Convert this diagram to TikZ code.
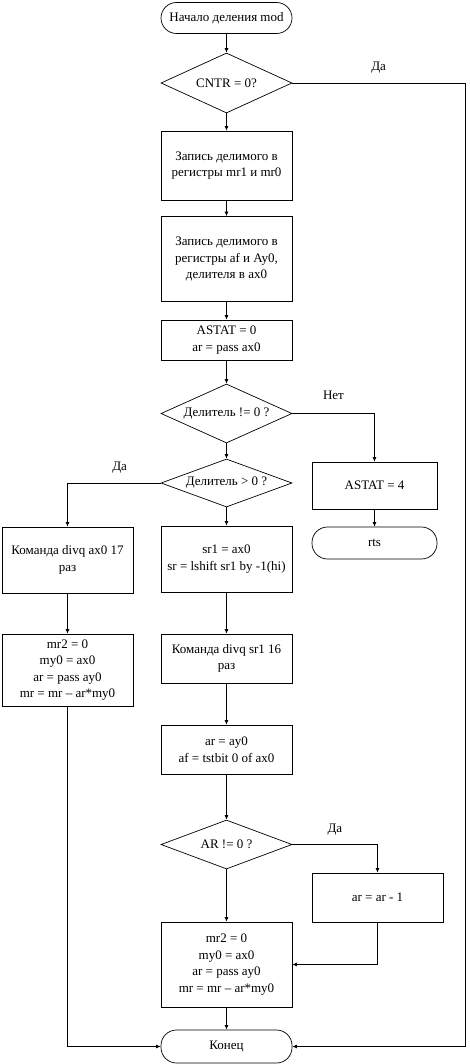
\documentclass[tikz,border=0pt]{standalone}
\usepackage{fontspec}
\setmainfont{Liberation Serif}
\usetikzlibrary{arrows.meta, shapes.geometric}

\begin{document}
\begin{tikzpicture}[x=1pt, y=-1pt, line width=0.7pt,
    font=\fontsize{13}{16.5}\selectfont,
    proc/.style={draw, rectangle, inner sep=2pt, minimum width=131pt, align=center},
    term/.style={draw, rectangle, rounded corners=15.5pt, inner sep=2pt, minimum width=131pt, minimum height=32pt},
    cond/.style={draw, diamond, inner sep=0pt, minimum width=131pt},
    lbl/.style={above=9pt, inner sep=0pt},
    arr/.style={-{Latex[length=4.5pt, width=4pt]}}]
        \useasboundingbox (0,0) rectangle (470,1064);

        % Начало и проверка CNTR
        \node[term, minimum height=31pt] (start) at (226.5,18) {Начало деления mod};
        \node[cond, minimum height=60pt, label=center:{CNTR = 0?}] (cntr) at (226.5,83) {};
        \node[proc, minimum height=69pt] (wr1) at (226.5,165.5) {Запись делимого в\\регистры mr1 и mr0};
        \node[proc, minimum height=85pt] (wr2) at (226.5,259) {Запись делимого в\\регистры af и Ay0,\\делителя в ax0};
        \node[proc, minimum height=40pt] (ast0) at (226.5,340) {ASTAT = 0\\ar = pass ax0};

        % Проверки делителя
        \node[cond, minimum height=59pt, label=center:{Делитель != 0 ?}] (dnz) at (226.5,413.5) {};
        \node[cond, minimum height=48pt, label=center:{Делитель > 0 ?}] (dpos) at (226.5,483) {};
        \node[proc, minimum width=125pt, minimum height=47pt] (ast4) at (374.5,485.5) {ASTAT = 4};
        \node[term, minimum width=125pt] (rts) at (374.5,543) {rts};

        % Левая ветка
        \node[proc, minimum height=66pt] (divax) at (67.5,560) {Команда divq ax0 17\\раз};
        \node[proc, minimum height=72pt] (resl) at (67.5,670) {mr2 = 0\\my0 = ax0\\ar = pass ay0\\mr = mr – ar*my0};

        % Центральная ветка
        \node[proc, minimum height=66pt] (shft) at (226.5,559) {sr1 = ax0\\sr = lshift sr1 by -1(hi)};
        \node[proc, minimum height=49pt] (divsr) at (226.5,658.5) {Команда divq sr1 16\\раз};
        \node[proc, minimum height=49pt] (tst) at (226.5,749.5) {ar = ay0\\af = tstbit 0 of ax0};
        \node[cond, minimum height=49pt, label=center:{AR != 0 ?}] (arnz) at (226.5,844.5) {};
        \node[proc, minimum height=49pt] (dec) at (377.5,897.5) {ar = ar - 1};
        \node[proc, minimum height=85pt] (resc) at (226.5,964.5) {mr2 = 0\\my0 = ax0\\ar = pass ay0\\mr = mr – ar*my0};
        \node[term, minimum height=33pt] (fin) at (226.5,1046.5) {Конец};
        \coordinate (rbus) at (465,83);

        % Стрелки
        \draw[arr] (start) -- (cntr);
        \draw[arr] (cntr) -- (wr1);
        \draw[arr] (wr1) -- (wr2);
        \draw[arr] (wr2) -- (ast0);
        \draw[arr] (ast0) -- (dnz);
        \draw[arr] (cntr.east) -- node[lbl] {Да} (rbus) |- (fin.east);
        \draw[arr] (dnz.east) -| node[pos=0.25, lbl, above=5pt] {Нет} (ast4.north);
        \draw[arr] (ast4) -- (rts);
        \draw[arr] (dnz) -- (dpos);
        \draw[arr] (dpos.west) -| node[pos=0.22, lbl] {Да} (divax.north);
        \draw[arr] (dpos) -- (shft);
        \draw[arr] (divax) -- (resl);
        \draw[arr] (resl.south) |- (fin.west);
        \draw[arr] (shft) -- (divsr);
        \draw[arr] (divsr) -- (tst);
        \draw[arr] (tst) -- (arnz);
        \draw[arr] (arnz.east) -| node[pos=0.25, lbl] {Да} (dec.north);
        \draw[arr] (arnz) -- (resc);
        \draw[arr] (dec.south) |- (resc.east);
        \draw[arr] (resc) -- (fin);
    \end{tikzpicture}
\end{document}
